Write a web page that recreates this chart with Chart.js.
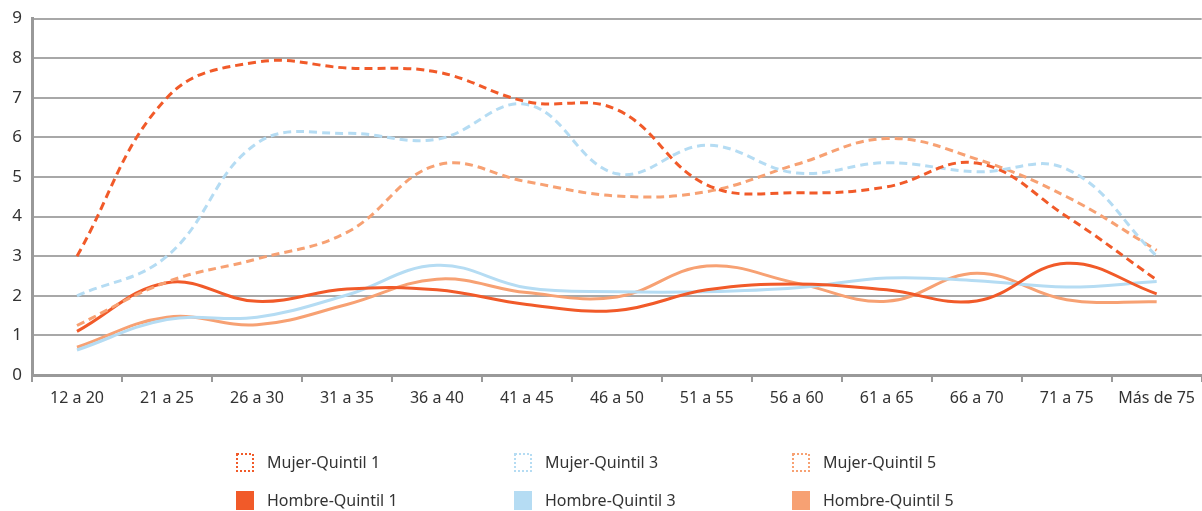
<!DOCTYPE html>
<html>
<head>
  <meta charset="utf-8">
  <title>Quintiles por edad</title>
  <script src="https://cdn.jsdelivr.net/npm/chart.js"></script>
  <style>
    body { margin: 0; background: #fff; }
    #wrap { width: 1202px; height: 511px; }
  </style>
</head>
<body>
<div id="wrap"><canvas id="chart" width="1202" height="511"></canvas></div>

<script>
const categories = ["12 a 20","21 a 25","26 a 30","31 a 35","36 a 40","41 a 45","46 a 50","51 a 55","56 a 60","61 a 65","66 a 70","71 a 75","Más de 75"];

const mujerQ1  = [3.0, 7.0, 7.9, 7.75, 7.65, 6.9, 6.7, 4.8, 4.6, 4.75, 5.35, 4.0, 2.4];
const mujerQ3  = [2.0, 3.0, 5.85, 6.1, 5.95, 6.83, 5.08, 5.8, 5.1, 5.36, 5.13, 5.2, 3.0];
const mujerQ5  = [1.25, 2.35, 2.93, 3.6, 5.3, 4.88, 4.52, 4.63, 5.32, 5.97, 5.45, 4.5, 3.15];
const hombreQ1 = [1.1, 2.33, 1.86, 2.17, 2.15, 1.78, 1.63, 2.15, 2.3, 2.15, 1.87, 2.82, 2.05];
const hombreQ3 = [0.63, 1.4, 1.46, 2.02, 2.77, 2.2, 2.1, 2.1, 2.2, 2.45, 2.38, 2.22, 2.36];
const hombreQ5 = [0.7, 1.46, 1.27, 1.78, 2.42, 2.08, 1.97, 2.75, 2.32, 1.86, 2.57, 1.9, 1.85];

const yTicks = [0,1,2,3,4,5,6,7,8,9];

const RED = "#f15a29", BLUE = "#b5dcf3", SALMON = "#f7a173";
const FONT = "'Noto Sans', sans-serif";

function line(label, data, color, dashed) {
  return {
    label: label,
    data: data,
    borderColor: color,
    backgroundColor: color,
    borderWidth: 3,
    borderDash: dashed ? [8, 5] : [],
    tension: 0.4,
    pointRadius: 0,
    fill: false
  };
}

// legend drawn as a 2x3 grid under the axis
const gridLegend = {
  id: "gridLegend",
  afterDraw(chart) {
    const ctx = chart.ctx;
    const cols = [236, 514, 792];
    const rows = [462, 500];
    chart.data.datasets.forEach((ds, i) => {
      const x = cols[i % 3], y = rows[Math.floor(i / 3)];
      ctx.save();
      if (ds.borderDash.length) {
        ctx.strokeStyle = ds.borderColor;
        ctx.lineWidth = 2;
        ctx.setLineDash([2, 2]);
        ctx.strokeRect(x + 1, y - 8, 16, 17);
      } else {
        ctx.fillStyle = ds.borderColor;
        ctx.fillRect(x, y - 9, 18, 19);
      }
      ctx.setLineDash([]);
      ctx.fillStyle = "#333";
      ctx.font = "16px " + FONT;
      ctx.textBaseline = "middle";
      ctx.fillText(ds.label, x + 31, y + 1);
      ctx.restore();
    });
  }
};

new Chart(document.getElementById("chart"), {
  type: "line",
  data: {
    labels: categories,
    datasets: [
      line("Mujer-Quintil 1", mujerQ1, RED, true),
      line("Mujer-Quintil 3", mujerQ3, BLUE, true),
      line("Mujer-Quintil 5", mujerQ5, SALMON, true),
      line("Hombre-Quintil 1", hombreQ1, RED, false),
      line("Hombre-Quintil 3", hombreQ3, BLUE, false),
      line("Hombre-Quintil 5", hombreQ5, SALMON, false)
    ]
  },
  options: {
    responsive: false,
    animation: false,
    layout: { padding: { top: 12, right: 0, left: 0, bottom: 0 } },
    plugins: { legend: { display: false }, tooltip: { enabled: false } },
    scales: {
      x: {
        offset: true,
        grid: { offset: true, drawOnChartArea: false, drawTicks: true, tickLength: 7, color: "#999", lineWidth: 2 },
        border: { color: "#999", width: 3 },
        ticks: { color: "#333", font: { family: FONT, size: 16 }, padding: 7, maxRotation: 0, autoSkip: false },
        afterFit(scale) { scale.height = 136; }
      },
      y: {
        min: 0,
        max: 9,
        afterBuildTicks(scale) { scale.ticks = yTicks.map(v => ({ value: v })); },
        grid: { color: "#a8a8a8", lineWidth: 2, drawTicks: false },
        border: { color: "#999", width: 3 },
        ticks: { color: "#333", font: { family: FONT, size: 17, lineHeight: 1 }, padding: 10 },
        afterFit(scale) { scale.width = 32; }
      }
    }
  },
  plugins: [gridLegend]
});
</script>
</body>
</html>
